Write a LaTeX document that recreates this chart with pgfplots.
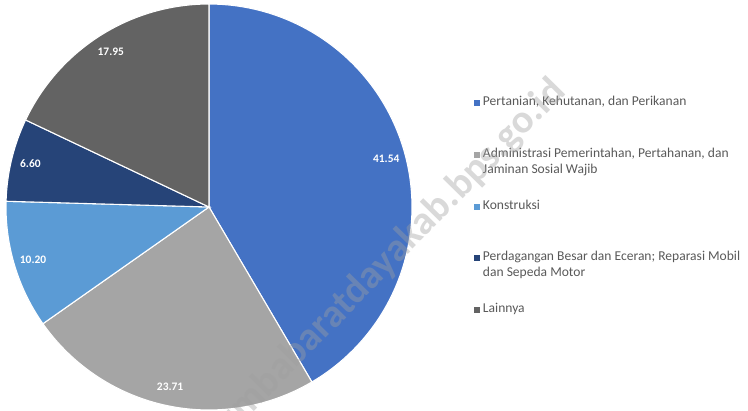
\documentclass[border=0pt]{standalone}
\usepackage{pgfplots}
\pgfplotsset{compat=1.18}
\usepackage{fontspec}
\setmainfont{Carlito}
\definecolor{c1}{HTML}{4472C4}
\definecolor{c2}{HTML}{A5A5A5}
\definecolor{c3}{HTML}{5B9BD5}
\definecolor{c4}{HTML}{264478}
\definecolor{c5}{HTML}{636363}
\definecolor{txt}{HTML}{595959}
\tikzset{labl/.style={text=white, font=\bfseries\fontsize{11.5}{12}\selectfont}}
% data (percent)
\def\vA{41.54}
\def\vB{23.71}
\def\vC{10.20}
\def\vD{6.60}
\def\vE{17.95}
\begin{document}
\begin{tikzpicture}
\pgfmathsetmacro\aA{90}
\pgfmathsetmacro\aB{\aA-3.6*\vA}
\pgfmathsetmacro\aC{\aB-3.6*\vB}
\pgfmathsetmacro\aD{\aC-3.6*\vC}
\pgfmathsetmacro\aE{\aD-3.6*\vD}
\pgfmathsetmacro\aF{\aE-3.6*\vE}
\def\lr{0.905}
\pgfmathsetmacro\xA{\lr*cos((\aA+\aB)/2)}\pgfmathsetmacro\yA{\lr*sin((\aA+\aB)/2)}
\pgfmathsetmacro\xB{\lr*cos((\aB+\aC)/2)}\pgfmathsetmacro\yB{\lr*sin((\aB+\aC)/2)}
\pgfmathsetmacro\xC{\lr*cos((\aC+\aD)/2)}\pgfmathsetmacro\yC{\lr*sin((\aC+\aD)/2)}
\pgfmathsetmacro\xD{\lr*cos((\aD+\aE)/2)}\pgfmathsetmacro\yD{\lr*sin((\aD+\aE)/2)}
\pgfmathsetmacro\xE{\lr*cos((\aE+\aF)/2)}\pgfmathsetmacro\yE{\lr*sin((\aE+\aF)/2)}
\path[use as bounding box] (0bp,0bp) rectangle (748bp,411bp);
\begin{axis}[at={(209bp,204bp)}, anchor=center, width=406bp, height=406bp,
  scale only axis, xmin=-1, xmax=1, ymin=-1, ymax=1, hide axis, clip=false,
  legend style={at={(1.1527,0.777)}, anchor=north west, draw=none, fill=none,
    inner sep=0pt, outer sep=0pt, font=\fontsize{13.6}{16}\selectfont, text=txt,
    row sep=39bp, column sep=3bp, nodes={inner sep=0bp}, cells={anchor=base west}},
  legend image code/.code={\fill[#1, draw=none] (0,-0.5bp) rectangle (6bp,5.5bp);},
  every axis plot/.append style={draw=white, line width=1.1pt, samples=80},
]
\addplot[fill=c1, domain=\aB:\aA] ({cos(x)},{sin(x)}) -- (axis cs:0,0) -- cycle;
\addlegendentry{\parbox[t]{264bp}{\strut Pertanian, Kehutanan, dan Perikanan}}
\addplot[fill=c2, domain=\aC:\aB] ({cos(x)},{sin(x)}) -- (axis cs:0,0) -- cycle;
\addlegendentry{\parbox[t]{264bp}{\strut Administrasi Pemerintahan, Pertahanan, dan\\\strut Jaminan Sosial Wajib}}
\addplot[fill=c3, domain=\aD:\aC] ({cos(x)},{sin(x)}) -- (axis cs:0,0) -- cycle;
\addlegendentry{\parbox[t]{264bp}{\strut Konstruksi}}
\addplot[fill=c4, domain=\aE:\aD] ({cos(x)},{sin(x)}) -- (axis cs:0,0) -- cycle;
\addlegendentry{\parbox[t]{264bp}{\strut Perdagangan Besar dan Eceran; Reparasi Mobil\\\strut dan Sepeda Motor}}
\addplot[fill=c5, domain=\aF:\aE] ({cos(x)},{sin(x)}) -- (axis cs:0,0) -- cycle;
\addlegendentry{\parbox[t]{264bp}{\strut Lainnya}}
\node[labl] at (axis cs:\xA,\yA) {\vA};
\node[labl] at (axis cs:\xB,\yB) {\vB};
\node[labl] at (axis cs:\xC,\yC) {\vC};
\node[labl] at (axis cs:\xD,\yD) {\vD};
\node[labl] at (axis cs:\xE,\yE) {\vE};
\end{axis}
\node[overlay, rotate=45.5, anchor=east, text=gray!75, opacity=0.4,
  font=\bfseries\fontsize{40}{40}\selectfont] at (562bp,328bp) {sumbabaratdayakab.bps.go.id};
\end{tikzpicture}
\end{document}
